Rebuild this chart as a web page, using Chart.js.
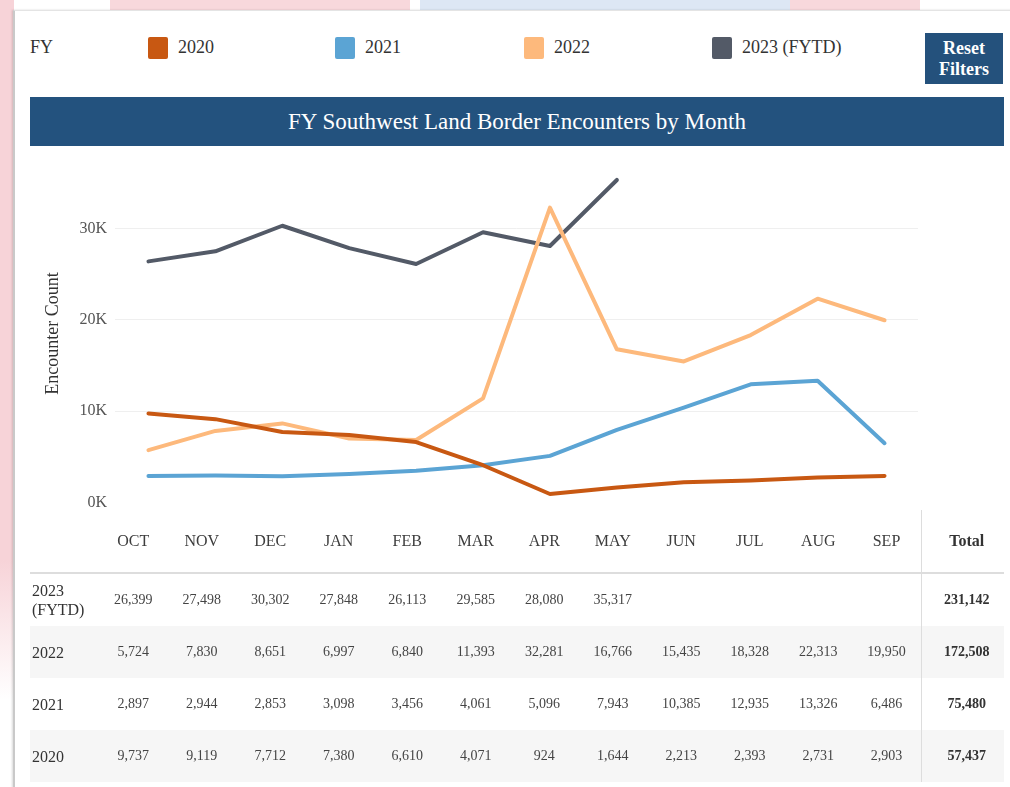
<!DOCTYPE html>
<html>
<head>
<meta charset="utf-8">
<script src="https://cdn.jsdelivr.net/npm/chart.js@4"></script>
<style>
  html, body { margin: 0; padding: 0; width: 1010px; height: 787px; overflow: hidden; background: #fff; }
  * { font-family: "Liberation Serif", "DejaVu Serif", serif; }
  #bgLeft { position: absolute; left: 0; top: 0; width: 14px; height: 700px; background: linear-gradient(#f7d3d8 80%, rgba(247,211,216,0)); }
  #bgTop1 { position: absolute; left: 110px; top: 0; width: 300px; height: 11px; background: #f8d8dc; }
  #bgTop2 { position: absolute; left: 420px; top: 0; width: 370px; height: 11px; background: #dde7f4; }
  #bgTop3 { position: absolute; left: 790px; top: 0; width: 130px; height: 11px; background: #f8d8dc; }
  #card { position: absolute; left: 13px; top: 10px; width: 1000px; height: 777px; background: #fff; border-left: 2px solid #c9c9c9; border-top: 1px solid #e4e4e4; box-shadow: -1px 0 2px rgba(0,0,0,0.15); }
  .abs { position: absolute; }
  #fy { left: 30px; top: 37px; font-size: 18px; color: #333; }
  .sw { position: absolute; top: 37px; width: 20px; height: 22px; border-radius: 2px; }
  .lt { position: absolute; top: 37px; font-size: 18px; color: #333; }
  #reset { left: 925px; top: 33px; width: 78px; height: 51px; background: #24517c; color: #fff; font-weight: bold; font-size: 18px; line-height: 21px; text-align: center; display: flex; align-items: center; justify-content: center; }
  #titlebar { left: 30px; top: 97px; width: 974px; height: 49px; background: #23527e; color: #fff; font-size: 23px; text-align: center; line-height: 49px; }
  #chartBox { left: 30px; top: 147px; width: 888px; height: 373px; }
  #tbl { position: absolute; left: 30px; top: 510px; border-collapse: collapse; table-layout: fixed; width: 974px; }
  #tbl td, #tbl th { padding: 0; text-align: center; color: #444; }
  #tbl th { font-weight: normal; font-size: 16px; height: 62px; border-bottom: 2px solid #ddd; color: #3d3d3d; }
  #tbl td { font-size: 14px; height: 52px; }
  #tbl td.lab { text-align: left; font-size: 16px; color: #333; padding-left: 2px; line-height: 19px; }
  #tbl .tot { border-left: 1px solid #ddd; font-weight: bold; color: #333; padding-left: 8px; }
  #tbl th.tot { font-weight: bold; font-size: 16px; }
  #tbl tr.g td { background: #f6f6f6; }
</style>
</head>
<body>
<div id="bgLeft"></div><div id="bgTop1"></div><div id="bgTop2"></div><div id="bgTop3"></div>
<div id="card"></div>
<div class="abs" id="fy">FY</div>
<div id="legend"></div>
<div class="abs" id="reset">Reset<br>Filters</div>
<div class="abs" id="titlebar">FY Southwest Land Border Encounters by Month</div>
<div class="abs" id="chartBox"><canvas id="c"></canvas></div>
<table id="tbl"></table>
<script>
const months = ["OCT","NOV","DEC","JAN","FEB","MAR","APR","MAY","JUN","JUL","AUG","SEP"];
const seriesNames = ["2020","2021","2022","2023 (FYTD)"];
const seriesColors = ["#c85812","#5ba4d4","#fdb97c","#535a67"];
const fy2020 = [9737, 9119, 7712, 7380, 6610, 4071, 924, 1644, 2213, 2393, 2731, 2903];
const fy2021 = [2897, 2944, 2853, 3098, 3456, 4061, 5096, 7943, 10385, 12935, 13326, 6486];
const fy2022 = [5724, 7830, 8651, 6997, 6840, 11393, 32281, 16766, 15435, 18328, 22313, 19950];
const fy2023 = [26399, 27498, 30302, 27848, 26113, 29585, 28080, 35317, null, null, null, null];
const totals = ["57,437", "75,480", "172,508", "231,142"];
const yTicks = [0, 10000, 20000, 30000];

// Legend
const legendX = [148, 335, 524, 712];
const legendEl = document.getElementById('legend');
seriesNames.forEach((n, i) => {
  const s = document.createElement('div'); s.className = 'sw';
  s.style.left = legendX[i] + 'px'; s.style.background = seriesColors[i];
  const t = document.createElement('div'); t.className = 'lt';
  t.style.left = (legendX[i] + 30) + 'px'; t.textContent = n;
  legendEl.appendChild(s); legendEl.appendChild(t);
});

// Chart
const allSeries = [fy2020, fy2021, fy2022, fy2023];
new Chart(document.getElementById('c'), {
  type: 'line',
  data: {
    labels: months,
    datasets: allSeries.map((d, i) => ({
      label: seriesNames[i], data: d, borderColor: seriesColors[i], backgroundColor: seriesColors[i],
      borderWidth: 4, pointRadius: 0, tension: 0, spanGaps: false, borderJoinStyle: 'round', borderCapStyle: 'round'
    }))
  },
  options: {
    responsive: true, maintainAspectRatio: false, animation: false,
    layout: { padding: { top: 8, bottom: 8, right: 0, left: 0 } },
    plugins: { legend: { display: false }, tooltip: { enabled: false } },
    scales: {
      x: { display: false, offset: true },
      y: {
        min: 0, max: 37000,
        border: { display: false },
        grid: { color: (ctx) => (ctx.tick && ctx.tick.value === 0) ? 'rgba(0,0,0,0)' : '#efefef', drawTicks: false, lineWidth: 1 },
        afterBuildTicks: (scale) => { scale.ticks = yTicks.map(v => ({ value: v })); },
        afterFit: (scale) => { scale.width = 85; },
        ticks: {
          padding: 8, color: '#555',
          font: { family: '"Liberation Serif", serif', size: 16 },
          callback: (v) => (v / 1000) + 'K'
        },
        title: {
          display: true, text: 'Encounter Count', color: '#333',
          font: { family: '"Liberation Serif", serif', size: 18 },
          padding: { top: 12, bottom: 0 }
        }
      }
    }
  }
});

// Table
const tbl = document.getElementById('tbl');
let html = '<colgroup><col style="width:69px">' + months.map(() => '<col style="width:68.5px">').join('') + '<col style="width:83px"></colgroup>';
html += '<tr><th></th>' + months.map(m => '<th>' + m + '</th>').join('') + '<th class="tot">Total</th></tr>';
const fmt = (v) => v == null ? '' : v.toLocaleString('en-US');
const rowOrder = [3, 2, 1, 0];
const rowLabels = ["2020", "2021", "2022", "2023<br>(FYTD)"];
rowOrder.forEach((si, r) => {
  html += '<tr class="' + (r % 2 === 1 ? 'g' : '') + '"><td class="lab">' + rowLabels[si] + '</td>' +
    allSeries[si].map(v => '<td>' + fmt(v) + '</td>').join('') +
    '<td class="tot">' + totals[si] + '</td></tr>';
});
tbl.innerHTML = html;
</script>
</body>
</html>
